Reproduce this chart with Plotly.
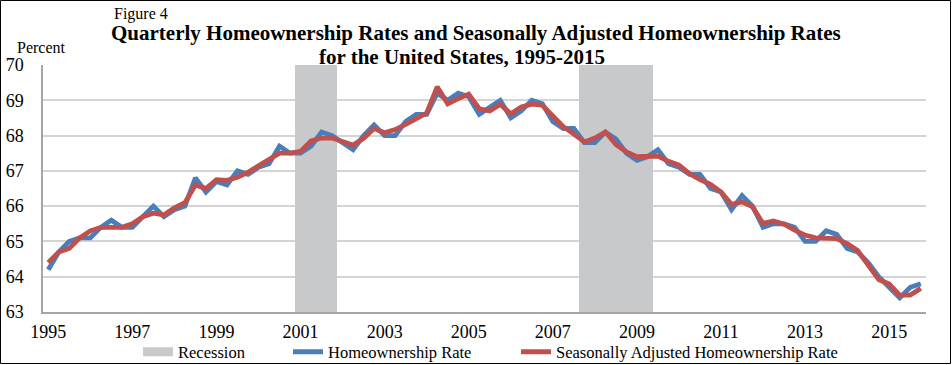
import plotly.graph_objects as go

# ---- data ----
start_year = 1995
rate = [
    64.2, 64.7, 65.0, 65.1,
    65.1, 65.4, 65.6, 65.4,
    65.4, 65.7, 66.0, 65.7,
    65.9, 66.0, 66.8, 66.4,
    66.7, 66.6, 67.0, 66.9,
    67.1, 67.2, 67.7, 67.5,
    67.5, 67.7, 68.1, 68.0,
    67.8, 67.6, 68.0, 68.3,
    68.0, 68.0, 68.4, 68.6,
    68.6, 69.2, 69.0, 69.2,
    69.1, 68.6, 68.8, 69.0,
    68.5, 68.7, 69.0, 68.9,
    68.4, 68.2, 68.2, 67.8,
    67.8, 68.1, 67.9, 67.5,
    67.3, 67.4, 67.6, 67.2,
    67.1, 66.9, 66.9, 66.5,
    66.4, 65.9, 66.3, 66.0,
    65.4, 65.5, 65.5, 65.4,
    65.0, 65.0, 65.3, 65.2,
    64.8, 64.7, 64.4, 64.0,
    63.7, 63.4, 63.7, 63.8,
]
sa_rate = [
    64.4, 64.7, 64.8, 65.1,
    65.3, 65.4, 65.4, 65.4,
    65.5, 65.7, 65.8, 65.75,
    65.95, 66.1, 66.6, 66.5,
    66.75, 66.73, 66.82, 66.96,
    67.14, 67.33, 67.5, 67.5,
    67.55, 67.85, 67.93, 67.93,
    67.82, 67.73, 67.92, 68.2,
    68.08, 68.17, 68.32, 68.48,
    68.64, 69.38, 68.9, 69.05,
    69.17, 68.76, 68.7, 68.88,
    68.62, 68.81, 68.89, 68.86,
    68.53, 68.25, 68.04, 67.82,
    67.93, 68.1, 67.75, 67.54,
    67.4, 67.42, 67.42, 67.27,
    67.16, 66.92, 66.75, 66.62,
    66.4, 66.05, 66.12, 65.98,
    65.51, 65.58, 65.49, 65.32,
    65.18, 65.1, 65.1, 65.08,
    64.94, 64.74, 64.33, 63.92,
    63.79, 63.48, 63.48, 63.67,
]
# recessions: first and last quarter (as decimal year)
recession_start = [2001.0, 2007.75]
recession_end = [2001.75, 2009.25]
x_ticks = [1995, 1997, 1999, 2001, 2003, 2005, 2007, 2009, 2011, 2013, 2015]
y_min, y_max = 63, 70

quarters = [start_year + i / 4 for i in range(len(rate))]

SERIF = "Liberation Serif, Times New Roman, serif"
L, R, T, B = 43, 26, 65, 53
W, H = 952, 365
PW, PH = W - L - R, H - T - B
REC_COLOR = "#c8c9cb"
BLUE = "#4a7ebb"
RED = "#c0504d"


def px(x):
    return (x - L) / PW


def py(y):
    return (H - B - y) / PH


fig = go.Figure()

rec_x = [(s + e) / 2 for s, e in zip(recession_start, recession_end)]
rec_w = [e - s + 0.25 for s, e in zip(recession_start, recession_end)]
fig.add_trace(go.Bar(
    x=rec_x, y=[y_max - y_min] * len(rec_x), base=y_min, width=rec_w,
    marker=dict(color=REC_COLOR, line=dict(width=0)),
    name="Recession", hoverinfo="skip", showlegend=False,
))
# legend-only entry for the recession shading (wide grey swatch)
fig.add_trace(go.Scatter(
    x=[None], y=[None], mode="lines", name="Recession",
    line=dict(color=REC_COLOR, width=9), legend="legend",
))
fig.add_trace(go.Scatter(
    x=quarters, y=rate, mode="lines", name="Homeownership Rate",
    line=dict(color=BLUE, width=4.8), legend="legend2",
))
fig.add_trace(go.Scatter(
    x=quarters, y=sa_rate, mode="lines",
    name="Seasonally Adjusted Homeownership Rate",
    line=dict(color=RED, width=4.8), legend="legend3",
))

leg_common = dict(orientation="h", xanchor="left", y=py(352), yanchor="middle",
                  font=dict(size=16.5, family=SERIF), bgcolor="rgba(0,0,0,0)",
                  borderwidth=0)

fig.update_layout(
    width=W, height=H,
    margin=dict(l=L, r=R, t=T, b=B, pad=0, autoexpand=False),
    paper_bgcolor="white", plot_bgcolor="white",
    font=dict(family=SERIF, size=16, color="black"),
    showlegend=True,
    legend=dict(x=px(138), **leg_common),
    legend2=dict(x=px(288), **leg_common),
    legend3=dict(x=px(516), **leg_common),
    bargap=0,
    xaxis=dict(range=[start_year - 0.125, quarters[-1] + 0.125],
               tickmode="array", tickvals=x_ticks,
               ticktext=[str(t) for t in x_ticks],
               showgrid=False, showline=True, linecolor="#a6a6a6", linewidth=1.5,
               ticks="", ticklabelstandoff=3,
               tickfont=dict(size=18, family=SERIF), zeroline=False),
    yaxis=dict(range=[y_min, y_max], dtick=1, showgrid=True, gridcolor="#d4d4d4",
               gridwidth=1.8, showline=True, linecolor="#a6a6a6", linewidth=1.5,
               ticks="", ticklabelstandoff=14, tickfont=dict(size=18, family=SERIF),
               zeroline=False),
    annotations=[
        dict(text="Figure 4", x=px(112), y=py(13.5), xref="paper", yref="paper",
             xanchor="left", yanchor="middle", showarrow=False,
             font=dict(size=16, family=SERIF)),
        dict(text="<b>Quarterly Homeownership Rates and Seasonally Adjusted Homeownership Rates</b>",
             x=px(476), y=py(33.5), xref="paper", yref="paper",
             xanchor="center", yanchor="middle", showarrow=False,
             font=dict(size=21, family=SERIF)),
        dict(text="<b>for the United States, 1995-2015</b>",
             x=px(462), y=py(57), xref="paper", yref="paper",
             xanchor="center", yanchor="middle", showarrow=False,
             font=dict(size=21, family=SERIF)),
        dict(text="Percent", x=px(15), y=py(48), xref="paper", yref="paper",
             xanchor="left", yanchor="middle", showarrow=False,
             font=dict(size=16, family=SERIF)),
    ],
    shapes=[dict(type="rect", xref="paper", yref="paper",
                 x0=px(0.5), x1=px(950.5), y0=py(0.5), y1=py(363.5),
                 line=dict(color="black", width=1), layer="below")],
)

fig.write_html(
    "out.html",
    config={"displayModeBar": False},
    post_script="document.body.style.margin='0';document.body.style.overflow='hidden';",
)
